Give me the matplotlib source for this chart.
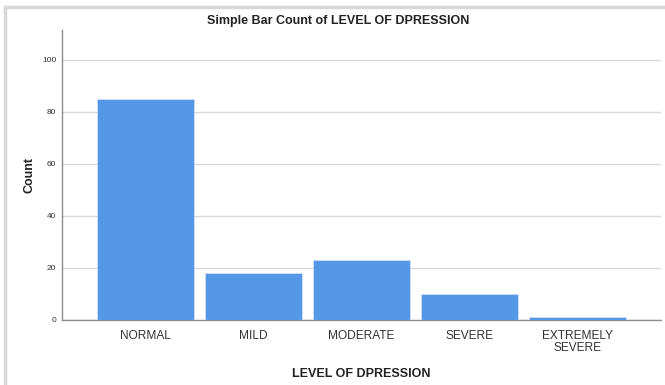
import matplotlib.pyplot as plt
from matplotlib.lines import Line2D

# data
categories = ["NORMAL", "MILD", "MODERATE", "SEVERE", "EXTREMELY\nSEVERE"]
counts = [85, 18, 23, 10, 1]
y_ticks = [0, 20, 40, 60, 80, 100]

plt.rcParams['font.family'] = ['Liberation Sans', 'DejaVu Sans']

fig = plt.figure(figsize=(6.65, 3.85), dpi=100)
ax = fig.add_axes([0.0932, 0.169, 0.9008, 0.753])

# frame around the whole chart (SPSS style)
fig.add_artist(Line2D([0.008, 0.008], [0.0, 0.982], transform=fig.transFigure,
                      color="#d8d8d8", lw=2.5))
fig.add_artist(Line2D([0.008, 1.0], [0.982, 0.982], transform=fig.transFigure,
                      color="#d8d8d8", lw=2.5))

x = range(len(categories))
ax.bar(x, counts, width=0.9, color="#5597e6", edgecolor="#cfe0f7", linewidth=0.6, zorder=3)

ax.set_xlim(-0.77, 4.77)
ax.set_ylim(0, 111.5)
ax.set_yticks(y_ticks)
ax.set_xticks(list(x))
ax.set_xticklabels(categories, fontsize=8.6, color="#333333", linespacing=1.05)
ax.tick_params(axis="y", length=0, labelsize=6, labelcolor="#333333", pad=4)
ax.tick_params(axis="x", length=0, pad=7)
ax.grid(axis="y", color="#d9d9d9", linewidth=1.0, zorder=0)

for side in ["top", "right"]:
    ax.spines[side].set_visible(False)
for side in ["left", "bottom"]:
    ax.spines[side].set_color("#8c8c8c")
    ax.spines[side].set_linewidth(1.0)

fig.text(0.508, 0.946, "Simple Bar Count of LEVEL OF DPRESSION", fontsize=9,
         fontweight="bold", color="#222222", ha="center", va="center")
ax.set_ylabel("Count", fontsize=9, fontweight="bold", color="#222222", labelpad=5)
ax.set_xlabel("LEVEL OF DPRESSION", fontsize=9, fontweight="bold", color="#222222", labelpad=10)

fig.savefig("out.png", dpi=100)
